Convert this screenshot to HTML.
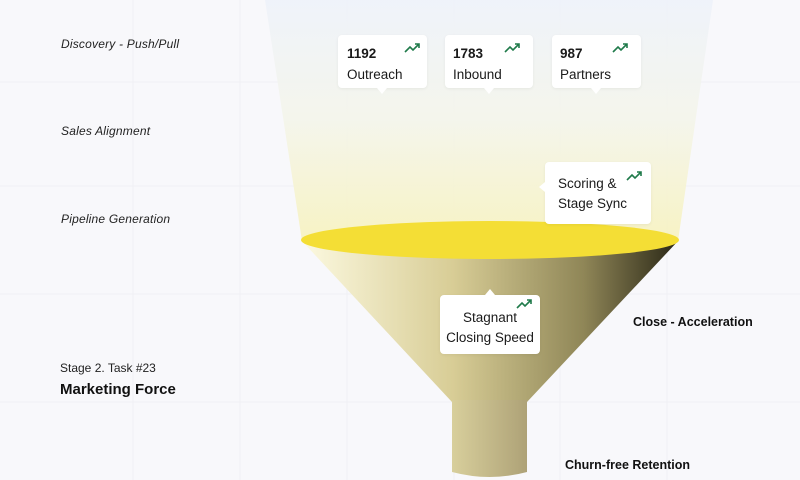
<!DOCTYPE html>
<html><head><meta charset="utf-8"><style>
html,body{margin:0;padding:0}
body{width:800px;height:480px;overflow:hidden;background:#f8f8fb;position:relative;font-family:"Liberation Sans",sans-serif}
.hand{position:absolute;left:61px;font-style:italic;font-size:12px;color:#222;font-family:"Liberation Sans",sans-serif;letter-spacing:0.2px}
.card{position:absolute;background:#fff;border-radius:4px;box-shadow:0 1px 3px rgba(0,0,0,0.06);font-size:13.5px;color:#1a1a1a}
.lbl{position:absolute;font-weight:bold;font-size:12.5px;color:#111}
</style></head><body>
<svg width="800" height="480" style="position:absolute;left:0;top:0">
<defs>
<linearGradient id="beam" x1="0" y1="0" x2="0" y2="1">
<stop offset="0" stop-color="#eef2fa"/>
<stop offset="0.5" stop-color="#f4f5ea"/>
<stop offset="1" stop-color="#f7f2be"/>
</linearGradient>
<linearGradient id="cone" x1="0" y1="0" x2="1" y2="0">
<stop offset="0" stop-color="#fcf9e0"/>
<stop offset="0.4" stop-color="#d8cd96"/>
<stop offset="0.75" stop-color="#8f8657"/>
<stop offset="1" stop-color="#2a2716"/>
</linearGradient>
<linearGradient id="neck" x1="0" y1="0" x2="1" y2="0">
<stop offset="0" stop-color="#d8cf9c"/>
<stop offset="1" stop-color="#aea277"/>
</linearGradient>
</defs>
<g stroke="#f0f0f4" stroke-width="1">
<line x1="0" y1="82" x2="800" y2="82"/><line x1="0" y1="186" x2="800" y2="186"/>
<line x1="0" y1="294" x2="800" y2="294"/><line x1="0" y1="402" x2="800" y2="402"/>
<line x1="133" y1="0" x2="133" y2="480"/><line x1="240" y1="0" x2="240" y2="480"/>
<line x1="347" y1="0" x2="347" y2="480"/><line x1="454" y1="0" x2="454" y2="480"/>
<line x1="560" y1="0" x2="560" y2="480"/><line x1="667" y1="0" x2="667" y2="480"/>
</g>
<polygon points="265,0 713,0 678,241 302,241" fill="url(#beam)" opacity="0.9"/>
<polygon points="302,241 678,241 527,402 452,402" fill="url(#cone)"/>
<path d="M452,400 L527,400 L527,472 Q490,482 452,472 Z" fill="url(#neck)"/>
<ellipse cx="490" cy="240" rx="189" ry="19" fill="#f4de35"/>
</svg>
<div class="hand" style="top:37px">Discovery - Push/Pull</div>
<div class="hand" style="top:124px">Sales Alignment</div>
<div class="hand" style="top:212px">Pipeline Generation</div>
<div style="position:absolute;left:60px;top:361px;font-size:12px;color:#222">Stage 2. Task #23</div>
<div style="position:absolute;left:60px;top:381px;font-size:15px;font-weight:bold;color:#111">Marketing Force</div>
<div class="lbl" style="left:633px;top:315px">Close - Acceleration</div>
<div class="lbl" style="left:565px;top:458px">Churn-free Retention</div>

<div class="card" style="left:338px;top:35px;width:89px;height:53px">
<div style="position:absolute;left:9px;top:11px;font-weight:bold">1192</div>
<div style="position:absolute;left:9px;top:32px">Outreach</div></div>
<div class="card" style="left:445px;top:35px;width:88px;height:53px">
<div style="position:absolute;left:8px;top:11px;font-weight:bold">1783</div>
<div style="position:absolute;left:8px;top:32px">Inbound</div></div>
<div class="card" style="left:552px;top:35px;width:89px;height:53px">
<div style="position:absolute;left:8px;top:11px;font-weight:bold">987</div>
<div style="position:absolute;left:8px;top:32px">Partners</div></div>
<div class="card" style="left:545px;top:162px;width:106px;height:62px">
<div style="position:absolute;left:13px;top:12px;line-height:20px">Scoring &amp;<br>Stage Sync</div></div>
<div class="card" style="left:440px;top:295px;width:100px;height:59px">
<div style="position:absolute;left:0;width:100px;top:13px;line-height:20px;text-align:center">Stagnant<br>Closing Speed</div></div>

<svg width="800" height="480" style="position:absolute;left:0;top:0">
<g fill="#fff">
<polygon points="377,88 387,88 382,94"/><polygon points="484,88 494,88 489,94"/><polygon points="591,88 601,88 596,94"/>
<polygon points="545,182 545,192 539,187"/><polygon points="485,295 495,295 490,289"/>
</g>
<g fill="none" stroke="#1f7a4a" stroke-width="1.6">
<path d="M405,52 L410,47 L413,50 L419,44 M415,44 L419,44 L419,48"/>
<path d="M505,52 L510,47 L513,50 L519,44 M515,44 L519,44 L519,48"/>
<path d="M613,52 L618,47 L621,50 L627,44 M623,44 L627,44 L627,48"/>
<path d="M627,180 L632,175 L635,178 L641,172 M637,172 L641,172 L641,176"/>
<path d="M517,308 L522,303 L525,306 L531,300 M527,300 L531,300 L531,304"/>
</g>
</svg>
</body></html>
